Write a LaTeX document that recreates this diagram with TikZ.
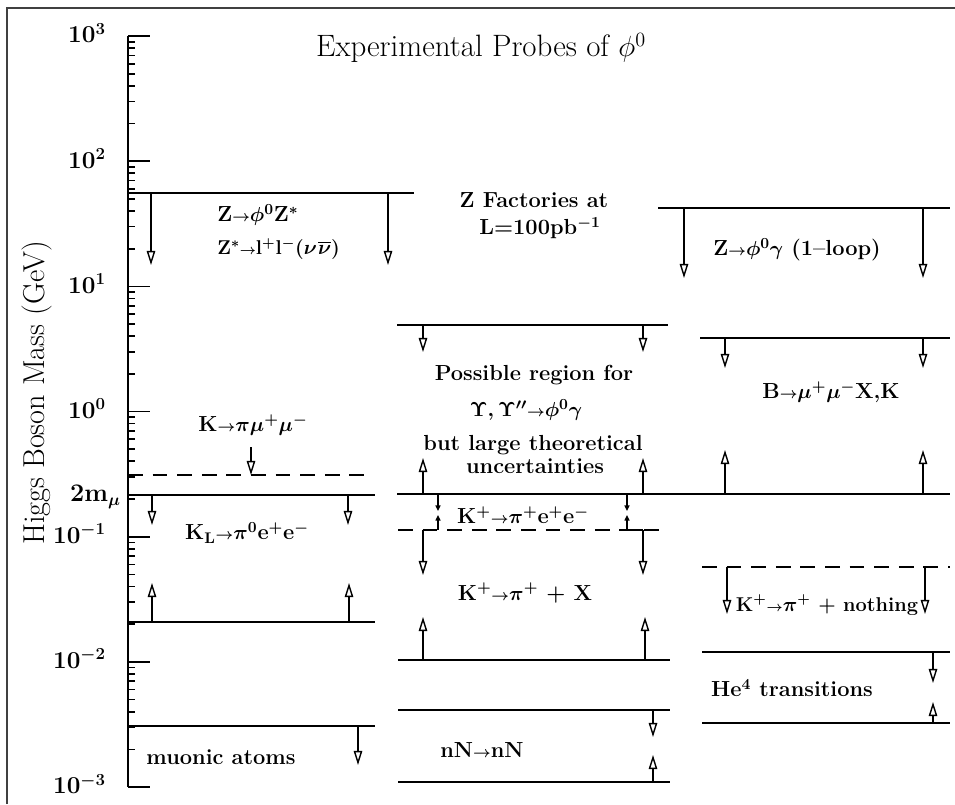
\documentclass[tikz,border=0pt]{standalone}
\usepackage{amsmath}
\usepackage{tikz}
\usetikzlibrary{arrows.meta}
\newcommand{\pto}{{\scriptstyle\rightarrow}}

\begin{document}
\begin{tikzpicture}[x=0.025cm,y=-0.025cm,>=Latex,
  lim/.style={line width=1.6pt},
  limdash/.style={line width=1.6pt,dash pattern=on 10.5pt off 7pt},
  dn/.style={line width=1pt,-{Triangle[open,length=10pt,width=6pt]}},
  sm/.style={line width=1pt,-{Triangle[length=4pt,width=3.5pt]}},
  lab/.style={font=\fontsize{15.5}{19}\selectfont\bfseries\boldmath,inner sep=0pt},
  smlab/.style={font=\fontsize{14.2}{17}\selectfont\bfseries\boldmath,inner sep=0pt},
  declab/.style={font=\fontsize{18}{20}\selectfont\bfseries\boldmath,inner sep=0pt,anchor=east},
  tick/.style={line width=1.2pt}]
\useasboundingbox (0,0) rectangle (955,804);
\draw[line width=1.5pt,black!75] (7,804) -- (7,8) -- (955,8);
\node[font=\fontsize{22}{26}\selectfont,inner sep=0pt] (title) at (481,48) {Experimental Probes of $\phi^0$};
\node[font=\fontsize{21.5}{24}\selectfont,inner sep=0pt,rotate=90] (ylab) at (37,393) {Higgs Boson Mass (GeV)};
% mass axis
\draw[line width=1.5pt] (128,36) -- (128,787);
\foreach \d in {-3,...,2}
  \foreach \k in {2,...,9}
    \draw[tick] (128,{36+(3-\d-log10(\k))*125.17}) -- +(7,0);
\foreach \d [count=\i] in {-3,...,3} {
  \draw[tick] (128,{36+(3-\d)*125.17}) -- +(22,0);
  \node[declab] (dec\i) at (106,{33+(3-\d)*125.17}) {$10^{\d}$};
}
\node[declab] (twomu) at (121,497) {2m$_\mu$};
% left column
\draw[lim] (128,193) -- (414,193);
\draw[dn] (151,193) -- (151,265);
\draw[dn] (388,193) -- (388,265);
\node[lab,anchor=west] (zzs) at (217,215) {Z$\pto\phi^0$Z$^*$};
\node[smlab,anchor=west] (zsll) at (217,249) {Z$^*\pto$l$^+$l$^-$($\nu\mkern1mu\overline{\nu}$)};
\node[lab] (kpimm) at (253,425) {K$\pto\pi\mu^+\mu^-$};
\draw[dn] (251,447) -- (251,475);
\draw[limdash] (128,475) -- (370,475);
\draw[lim] (128,495) -- (375,495);
\draw[dn] (152,495) -- (152,525);
\draw[dn] (348,495) -- (348,525);
\node[lab] (klpee) at (247,533) {K$_{\mathrm{L}}\pto\pi^0$e$^+$e$^-$};
\draw[dn] (152,622) -- (152,583);
\draw[dn] (349,622) -- (349,583);
\draw[lim] (128,622) -- (375,622);
\draw[lim] (128,726) -- (375,726);
\draw[dn] (358,726) -- (358,765);
\node[lab] (muat) at (221,757) {muonic atoms};
% middle column
\node[lab] (zfac1) at (534,200) {Z Factories at};
\node[lab] (zfac2) at (540,228) {L=100pb$^{-1}$};
\draw[lim] (397,325) -- (668,325);
\draw[dn] (423,325) -- (423,352);
\draw[dn] (643,325) -- (643,352);
\node[lab] (ups1) at (534,375) {Possible region for};
\node[lab] (ups2) at (526,410) {$\Upsilon,\Upsilon''\pto\phi^0\gamma$};
\node[lab] (ups3) at (533,445) {but large theoretical};
\node[lab] (ups4) at (535,466) {uncertainties};
\draw[dn] (423,494) -- (423,458);
\draw[dn] (643,494) -- (643,458);
\draw[lim] (397,494) -- (950,494);
\draw[sm] (438,494) -- (438,511);
\draw[sm] (438,530) -- (438,515);
\draw[sm] (627,494) -- (627,511);
\draw[sm] (627,530) -- (627,515);
\node[lab] (kpee) at (523,515) {K$^+\pto\pi^+$e$^+$e$^-$};
\draw[limdash] (398,530) -- (665,530);
\draw[line width=1.2pt] (423,530) -- (434,530);
\draw[line width=1.2pt] (627,530) -- (643,530);
\draw[dn] (423,530) -- (423,575);
\draw[dn] (643,530) -- (643,575);
\node[lab] (kpx) at (525,593) {K$^+\pto\pi^+$ + X};
\draw[dn] (423,660) -- (423,617);
\draw[dn] (645,660) -- (645,617);
\draw[lim] (398,660) -- (670,660);
\draw[lim] (398,710) -- (670,710);
\draw[dn] (653,710) -- (653,737);
\node[lab] (nn) at (482,750) {nN$\pto$nN};
\draw[lim] (398,782) -- (670,782);
\draw[dn] (653,782) -- (653,755);
% right column
\draw[lim] (658,208) -- (950,208);
\draw[dn] (684,208) -- (684,278);
\draw[dn] (923,208) -- (923,278);
\node[lab] (zpg) at (797,250) {Z$\pto\phi^0\gamma$ (1--loop)};
\draw[lim] (700,338) -- (950,338);
\draw[dn] (725,338) -- (725,368);
\draw[dn] (923,338) -- (923,368);
\node[lab] (bmm) at (831,392) {B$\pto\mu^+\mu^-$X,K};
\draw[dn] (725,494) -- (725,450);
\draw[dn] (923,494) -- (923,450);
\draw[limdash] (702,567) -- (950,567);
\draw[dn] (727,567) -- (727,614);
\draw[dn] (925,567) -- (925,614);
\node[smlab] (kpnot) at (827,605) {K$^+\pto\pi^+$ + nothing};
\draw[lim] (702,652) -- (950,652);
\draw[dn] (933,652) -- (933,683);
\node[lab] (he4) at (792,688) {He$^4$ transitions};
\draw[lim] (702,723) -- (950,723);
\draw[dn] (933,723) -- (933,702);
\end{tikzpicture}
\end{document}
